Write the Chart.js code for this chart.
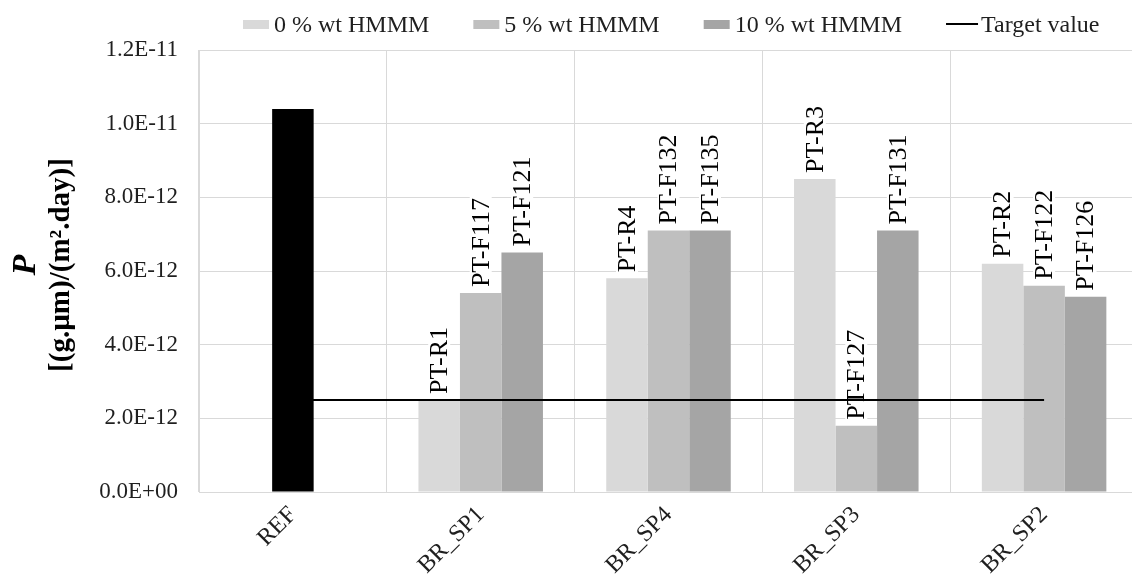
<!DOCTYPE html>
<html><head><meta charset="utf-8">
<script src="https://cdn.jsdelivr.net/npm/chart.js@4.4.1/dist/chart.umd.min.js"></script>
<style>
html,body{margin:0;padding:0;background:#fff;overflow:hidden;}
#wrap{width:1138px;height:574px;position:relative;}
</style></head><body><div id="wrap"><canvas id="c"></canvas></div>
<script>
const categories = ['REF', 'BR_SP1', 'BR_SP4', 'BR_SP3', 'BR_SP2'];
const refValues = [1.04e-11, null, null, null, null];
const hmmm0 = [null, 2.5e-12, 5.8e-12, 8.5e-12, 6.2e-12];
const hmmm5 = [null, 5.4e-12, 7.1e-12, 1.8e-12, 5.6e-12];
const hmmm10 = [null, 6.5e-12, 7.1e-12, 7.1e-12, 5.3e-12];
const targetValues = [2.5e-12, 2.5e-12, 2.5e-12, 2.5e-12, 2.5e-12];
const labels0 = [null, 'PT-R1', 'PT-R4', 'PT-R3', 'PT-R2'];
const labels5 = [null, 'PT-F117', 'PT-F132', 'PT-F127', 'PT-F122'];
const labels10 = [null, 'PT-F121', 'PT-F135', 'PT-F131', 'PT-F126'];
const yTickValues = [0, 2e-12, 4e-12, 6e-12, 8e-12, 1e-11, 1.2e-11];
const seriesNames = ['0 % wt HMMM', '5 % wt HMMM', '10 % wt HMMM', 'Target value'];
const yTitleLine1 = 'P';
const yTitleLine2 = '[(g.\u00b5m)/(m\u00b2.day)]';

const FONT = "'Liberation Serif','Times New Roman',serif";
const TEXT = '#1f1f1f';

function fmtExp(v) {
  return Number(v).toExponential(1).toUpperCase().replace(/E([+-])(\d)$/, 'E$10$2');
}

const barLabelPlugin = {
  id: 'barLabels',
  afterDatasetDraw(chart, args) {
    const ds = chart.data.datasets[args.index];
    if (!ds.pointLabels) return;
    const ctx = chart.ctx;
    ctx.save();
    ctx.font = '26px ' + FONT;
    args.meta.data.forEach((el, i) => {
      const txt = ds.pointLabels[i];
      if (!txt || ds.data[i] == null) return;
      const w = ctx.measureText(txt).width;
      ctx.save();
      ctx.translate(el.x, el.y - 6);
      ctx.rotate(-Math.PI / 2);
      ctx.fillStyle = '#fff';
      ctx.fillRect(-1, -11, w + 2, 22);
      ctx.fillStyle = '#000';
      ctx.textAlign = 'left';
      ctx.textBaseline = 'middle';
      ctx.fillText(txt, 0, 1);
      ctx.restore();
    });
    ctx.restore();
  }
};

const yTitlePlugin = {
  id: 'yTitle',
  afterDraw(chart) {
    const ctx = chart.ctx;
    ctx.save();
    ctx.fillStyle = '#000';
    ctx.textAlign = 'center';
    ctx.textBaseline = 'alphabetic';
    ctx.save();
    ctx.translate(35, 265);
    ctx.rotate(-Math.PI / 2);
    ctx.font = 'italic bold 34px ' + FONT;
    ctx.fillText(yTitleLine1, 0, 0);
    ctx.restore();
    ctx.save();
    ctx.translate(69, 265);
    ctx.rotate(-Math.PI / 2);
    ctx.font = 'bold 29px ' + FONT;
    ctx.fillText(yTitleLine2, 0, 0);
    ctx.restore();
    ctx.restore();
  }
};

const legendPlugin = {
  id: 'customLegend',
  afterDraw(chart) {
    const ctx = chart.ctx;
    ctx.save();
    ctx.font = '24px ' + FONT;
    ctx.textBaseline = 'alphabetic';
    ctx.textAlign = 'left';
    const dsets = chart.data.datasets;
    const items = [
      {text: seriesNames[0], color: dsets[2].backgroundColor, kind: 'box'},
      {text: seriesNames[1], color: dsets[3].backgroundColor, kind: 'box'},
      {text: seriesNames[2], color: dsets[4].backgroundColor, kind: 'box'},
      {text: seriesNames[3], color: dsets[0].borderColor, kind: 'line'}
    ];
    let x = 243;
    const yMid = 24.5, base = 31.5;
    items.forEach(it => {
      if (it.kind === 'box') {
        ctx.fillStyle = it.color;
        ctx.fillRect(x, yMid - 4.5, 26, 9);
        x += 26 + 5;
      } else {
        ctx.strokeStyle = it.color;
        ctx.lineWidth = 2;
        ctx.beginPath();
        ctx.moveTo(x, 24);
        ctx.lineTo(x + 32, 24);
        ctx.stroke();
        x += 32 + 3;
      }
      ctx.fillStyle = TEXT;
      ctx.fillText(it.text, x, base);
      x += ctx.measureText(it.text).width + 44;
    });
    ctx.restore();
  }
};

new Chart(document.getElementById('c'), {
  type: 'bar',
  data: {
    labels: categories,
    datasets: [
      {type: 'line', label: seriesNames[3], data: targetValues, borderColor: '#000', backgroundColor: '#000',
       borderWidth: 2, pointRadius: 0, fill: false, tension: 0, order: 0},
      {label: 'REF', data: refValues, backgroundColor: '#000', grouped: false,
       categoryPercentage: 0.221, barPercentage: 1, order: 1},
      {label: seriesNames[0], data: hmmm0, backgroundColor: '#d9d9d9', pointLabels: labels0, order: 1},
      {label: seriesNames[1], data: hmmm5, backgroundColor: '#bfbfbf', pointLabels: labels5, order: 1},
      {label: seriesNames[2], data: hmmm10, backgroundColor: '#a5a5a5', pointLabels: labels10, order: 1}
    ]
  },
  options: {
    responsive: true,
    maintainAspectRatio: false,
    animation: false,
    layout: {padding: {top: 50, left: 0, right: 0, bottom: 0}},
    datasets: {bar: {categoryPercentage: 0.663, barPercentage: 1}},
    plugins: {legend: {display: false}, tooltip: {enabled: false}},
    scales: {
      x: {
        grid: {color: '#d9d9d9', drawTicks: false, offset: true},
        border: {color: '#d9d9d9'},
        ticks: {font: {size: 24, family: FONT}, color: TEXT, minRotation: 45, maxRotation: 45, autoSkip: false, padding: 9},
        afterFit(s) { s.height = 82; }
      },
      y: {
        min: 0, max: 1.2e-11,
        grid: {color: '#d9d9d9', drawTicks: false},
        border: {color: '#d9d9d9'},
        ticks: {font: {size: 23, family: FONT}, color: TEXT, padding: 21, callback: v => fmtExp(v)},
        afterBuildTicks(s) { s.ticks = yTickValues.map(v => ({value: v})); },
        afterFit(s) { s.width = 199; }
      }
    }
  },
  plugins: [barLabelPlugin, yTitlePlugin, legendPlugin]
});
</script></body></html>
